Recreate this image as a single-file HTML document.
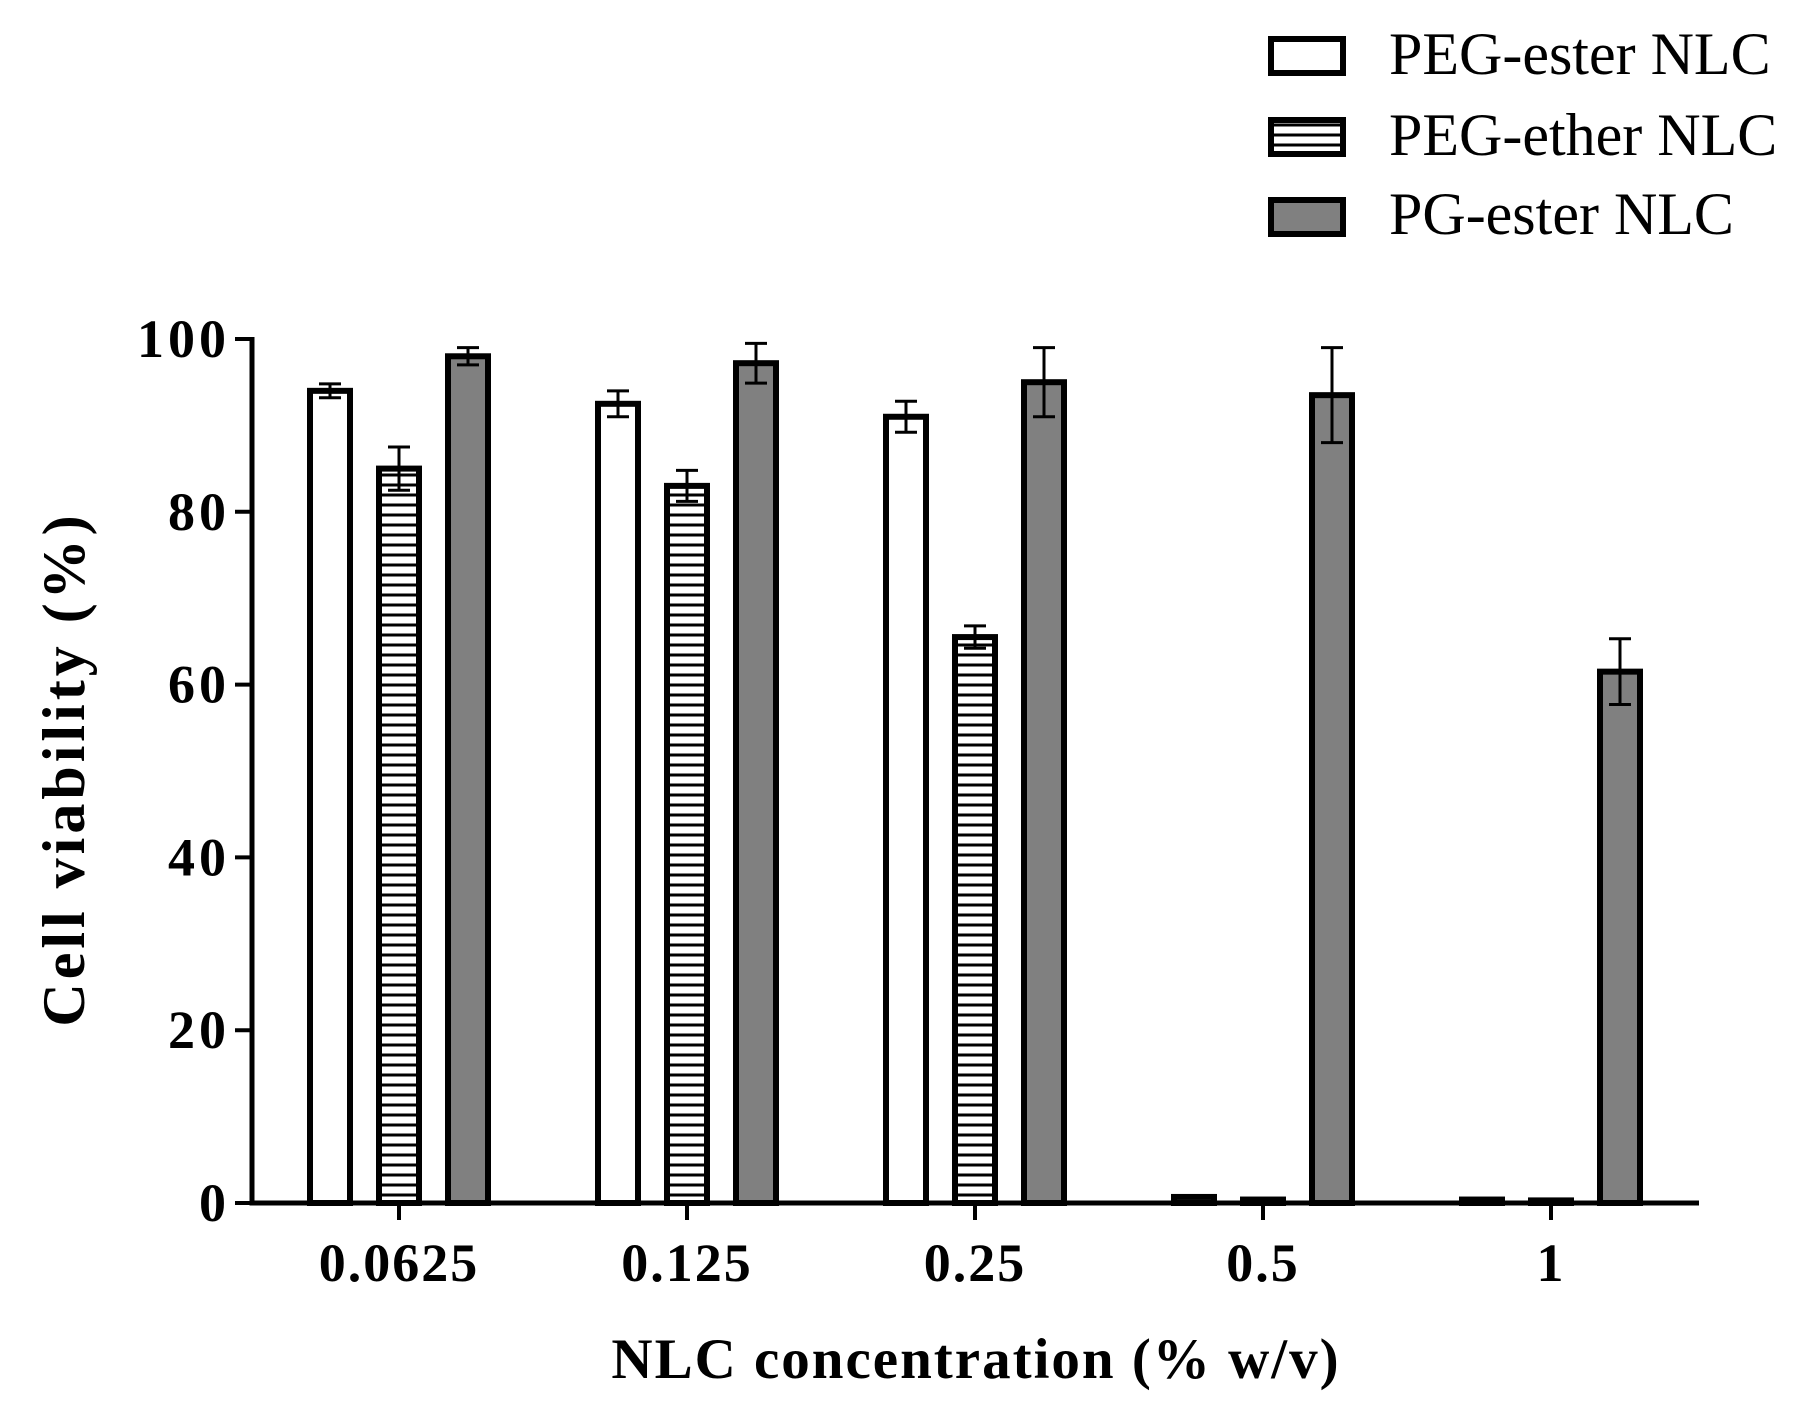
<!DOCTYPE html>
<html><head><meta charset="utf-8"><style>body{margin:0;background:#fff}svg{display:block}</style></head>
<body>
<svg id="chart" width="1811" height="1424" viewBox="0 0 1811 1424" xmlns="http://www.w3.org/2000/svg">
<defs>
<pattern id="hatch" width="10" height="10" patternUnits="userSpaceOnUse">
<rect width="10" height="10" fill="#fff"/><rect y="3.5" width="10" height="3" fill="#000"/></pattern>
</defs>
<g id="legend" font-family="Liberation Serif, serif" font-size="60">
<g><rect x="1271" y="39" width="72" height="34" fill="#fff" stroke="#000" stroke-width="6"/><text x="1389" y="74">PEG-ester NLC</text></g>
<g><rect x="1271" y="120" width="72" height="34" fill="url(#hatch)" stroke="#000" stroke-width="6"/><text x="1389" y="155">PEG-ether NLC</text></g>
<g><rect x="1271" y="200" width="72" height="34" fill="#808080" stroke="#000" stroke-width="6"/><text x="1389" y="234">PG-ester NLC</text></g>
</g>
<g id="plot"></g>
<text transform="translate(84,769) rotate(-90)" text-anchor="middle" font-family="Liberation Serif, serif" font-weight="bold" font-size="60" letter-spacing="4">Cell viability (%)</text>
<text x="976" y="1378" text-anchor="middle" font-family="Liberation Serif, serif" font-weight="bold" font-size="57" letter-spacing="2">NLC concentration (% w/v)</text>
</svg>
<script>
const categories = ["0.0625", "0.125", "0.25", "0.5", "1"];
const pegEster = [94, 92.5, 91, 0.7, 0.4];
const pegEsterErr = [0.8, 1.5, 1.8, 0, 0];
const pegEther = [85, 83, 65.5, 0.4, 0.3];
const pegEtherErr = [2.5, 1.8, 1.3, 0, 0];
const pgEster = [98, 97.2, 95, 93.5, 61.5];
const pgEsterErr = [1, 2.3, 4, 5.5, 3.8];
const yTicks = [0, 20, 40, 60, 80, 100];

const NS = "http://www.w3.org/2000/svg";
const g = document.getElementById('plot');
const x0 = 252, x1 = 1699, yBase = 1203, yTop = 339;
const y = v => yBase - (v / 100) * (yBase - yTop);
const xc = i => 399 + i * 288;
function mk(tag, attrs) { const e = document.createElementNS(NS, tag); for (const k in attrs) e.setAttribute(k, attrs[k]); g.appendChild(e); return e; }

const series = [
  {vals: pegEster, err: pegEsterErr, fill: "#fff", off: -69, name: "peg-ester"},
  {vals: pegEther, err: pegEtherErr, fill: "url(#hatch)", off: 0, name: "peg-ether"},
  {vals: pgEster, err: pgEsterErr, fill: "#808080", off: 69, name: "pg-ester"}
];
const bw = 40;
series.forEach(s => {
  s.vals.forEach((v, i) => {
    const cx = xc(i) + s.off;
    const r = mk('rect', {x: cx - bw / 2, y: y(v), width: bw, height: Math.max(yBase - y(v), 0.5), fill: s.fill, stroke: "#000", "stroke-width": 6});
    
    
    if (s.err[i] > 0) {
      const e = mk('path', {d: `M${cx},${y(v + s.err[i])}V${y(v - s.err[i])}M${cx - 11},${y(v + s.err[i])}H${cx + 11}M${cx - 11},${y(v - s.err[i])}H${cx + 11}`, stroke: "#000", "stroke-width": 3, fill: "none"});
      
      
    }
  });
});
const ya = mk('path', {d: `M${x0},${yTop - 2}V${yBase}H${x1}`, stroke: "#000", "stroke-width": 5, fill: "none"});


yTicks.forEach(t => {
  const tk = mk('path', {d: `M${x0 - 17},${y(t)}H${x0}`, stroke: "#000", "stroke-width": 4});
  
  
  const tx = mk('text', {x: x0 - 22, y: y(t) + 18, "text-anchor": "end", "font-family": "Liberation Serif, serif", "font-weight": "bold", "font-size": 54, "letter-spacing": 4});
  tx.textContent = t;
  
  
});
categories.forEach((c, i) => {
  const tk = mk('path', {d: `M${xc(i)},${yBase}V${yBase + 17}`, stroke: "#000", "stroke-width": 4});
  
  
  const tx = mk('text', {x: xc(i), y: 1281, "text-anchor": "middle", "font-family": "Liberation Serif, serif", "font-weight": "bold", "font-size": 54, "letter-spacing": 2});
  tx.textContent = c;
  
  
});
</script>
</body></html>
